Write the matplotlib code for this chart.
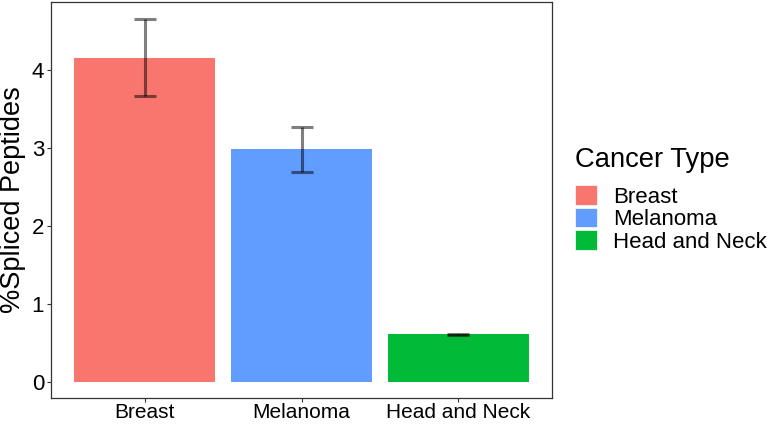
import matplotlib
matplotlib.use("Agg")
import matplotlib.pyplot as plt
from matplotlib.patches import Patch

categories = ["Breast", "Melanoma", "Head and Neck"]
values = [4.16, 2.985, 0.61]
errors = [0.49, 0.29, 0.006]
colors = ["#F8766D", "#619CFF", "#00BA38"]
yticks = [0, 1, 2, 3, 4]

plt.rcParams['font.family'] = ['Liberation Sans', 'DejaVu Sans']

W, H = 767, 425
fig = plt.figure(figsize=(W/100, H/100), dpi=100)
ax = fig.add_axes([51/W, 1 - 398/H, 501/W, 396/H])

x = list(range(1, len(categories) + 1))
ax.bar(x, values, width=0.9, color=colors, zorder=1)
ax.errorbar(x, values, yerr=errors, fmt='none', ecolor='black', alpha=0.5,
            elinewidth=2.2, capsize=7.8, capthick=2.2, zorder=2)

ax.set_xlim(0.4, 3.6)
ax.set_ylim(-0.209, 4.874)
ax.set_xticks(x)
ax.set_xticklabels(categories, fontsize=15, color='black')
ax.set_yticks(yticks)
ax.set_yticklabels([str(t) for t in yticks], fontsize=16, color='black')
ax.tick_params(axis='x', length=2.8, width=0.8, color='#333333', pad=0.5)
ax.tick_params(axis='y', length=3, width=0.8, color='#333333', pad=2)
for s in ax.spines.values():
    s.set_color('#333333')
    s.set_linewidth(0.9)
ax.set_ylabel("%Spliced Peptides", fontsize=19.5, labelpad=4)

fig.text(575/W, 1 - 166.5/H, "Cancer Type", fontsize=19.7, ha='left', va='baseline')
handles = [Patch(facecolor=c, edgecolor='white', linewidth=0.5) for c in colors]
leg = fig.legend(handles, categories, loc='upper left',
                 bbox_to_anchor=(575/W, 1 - 185/H),
                 fontsize=16, frameon=False, handlelength=1.0, handleheight=1.0,
                 labelspacing=0.0, handletextpad=0.72, borderpad=0.0,
                 borderaxespad=0.0)

fig.savefig("out.png", dpi=100)
